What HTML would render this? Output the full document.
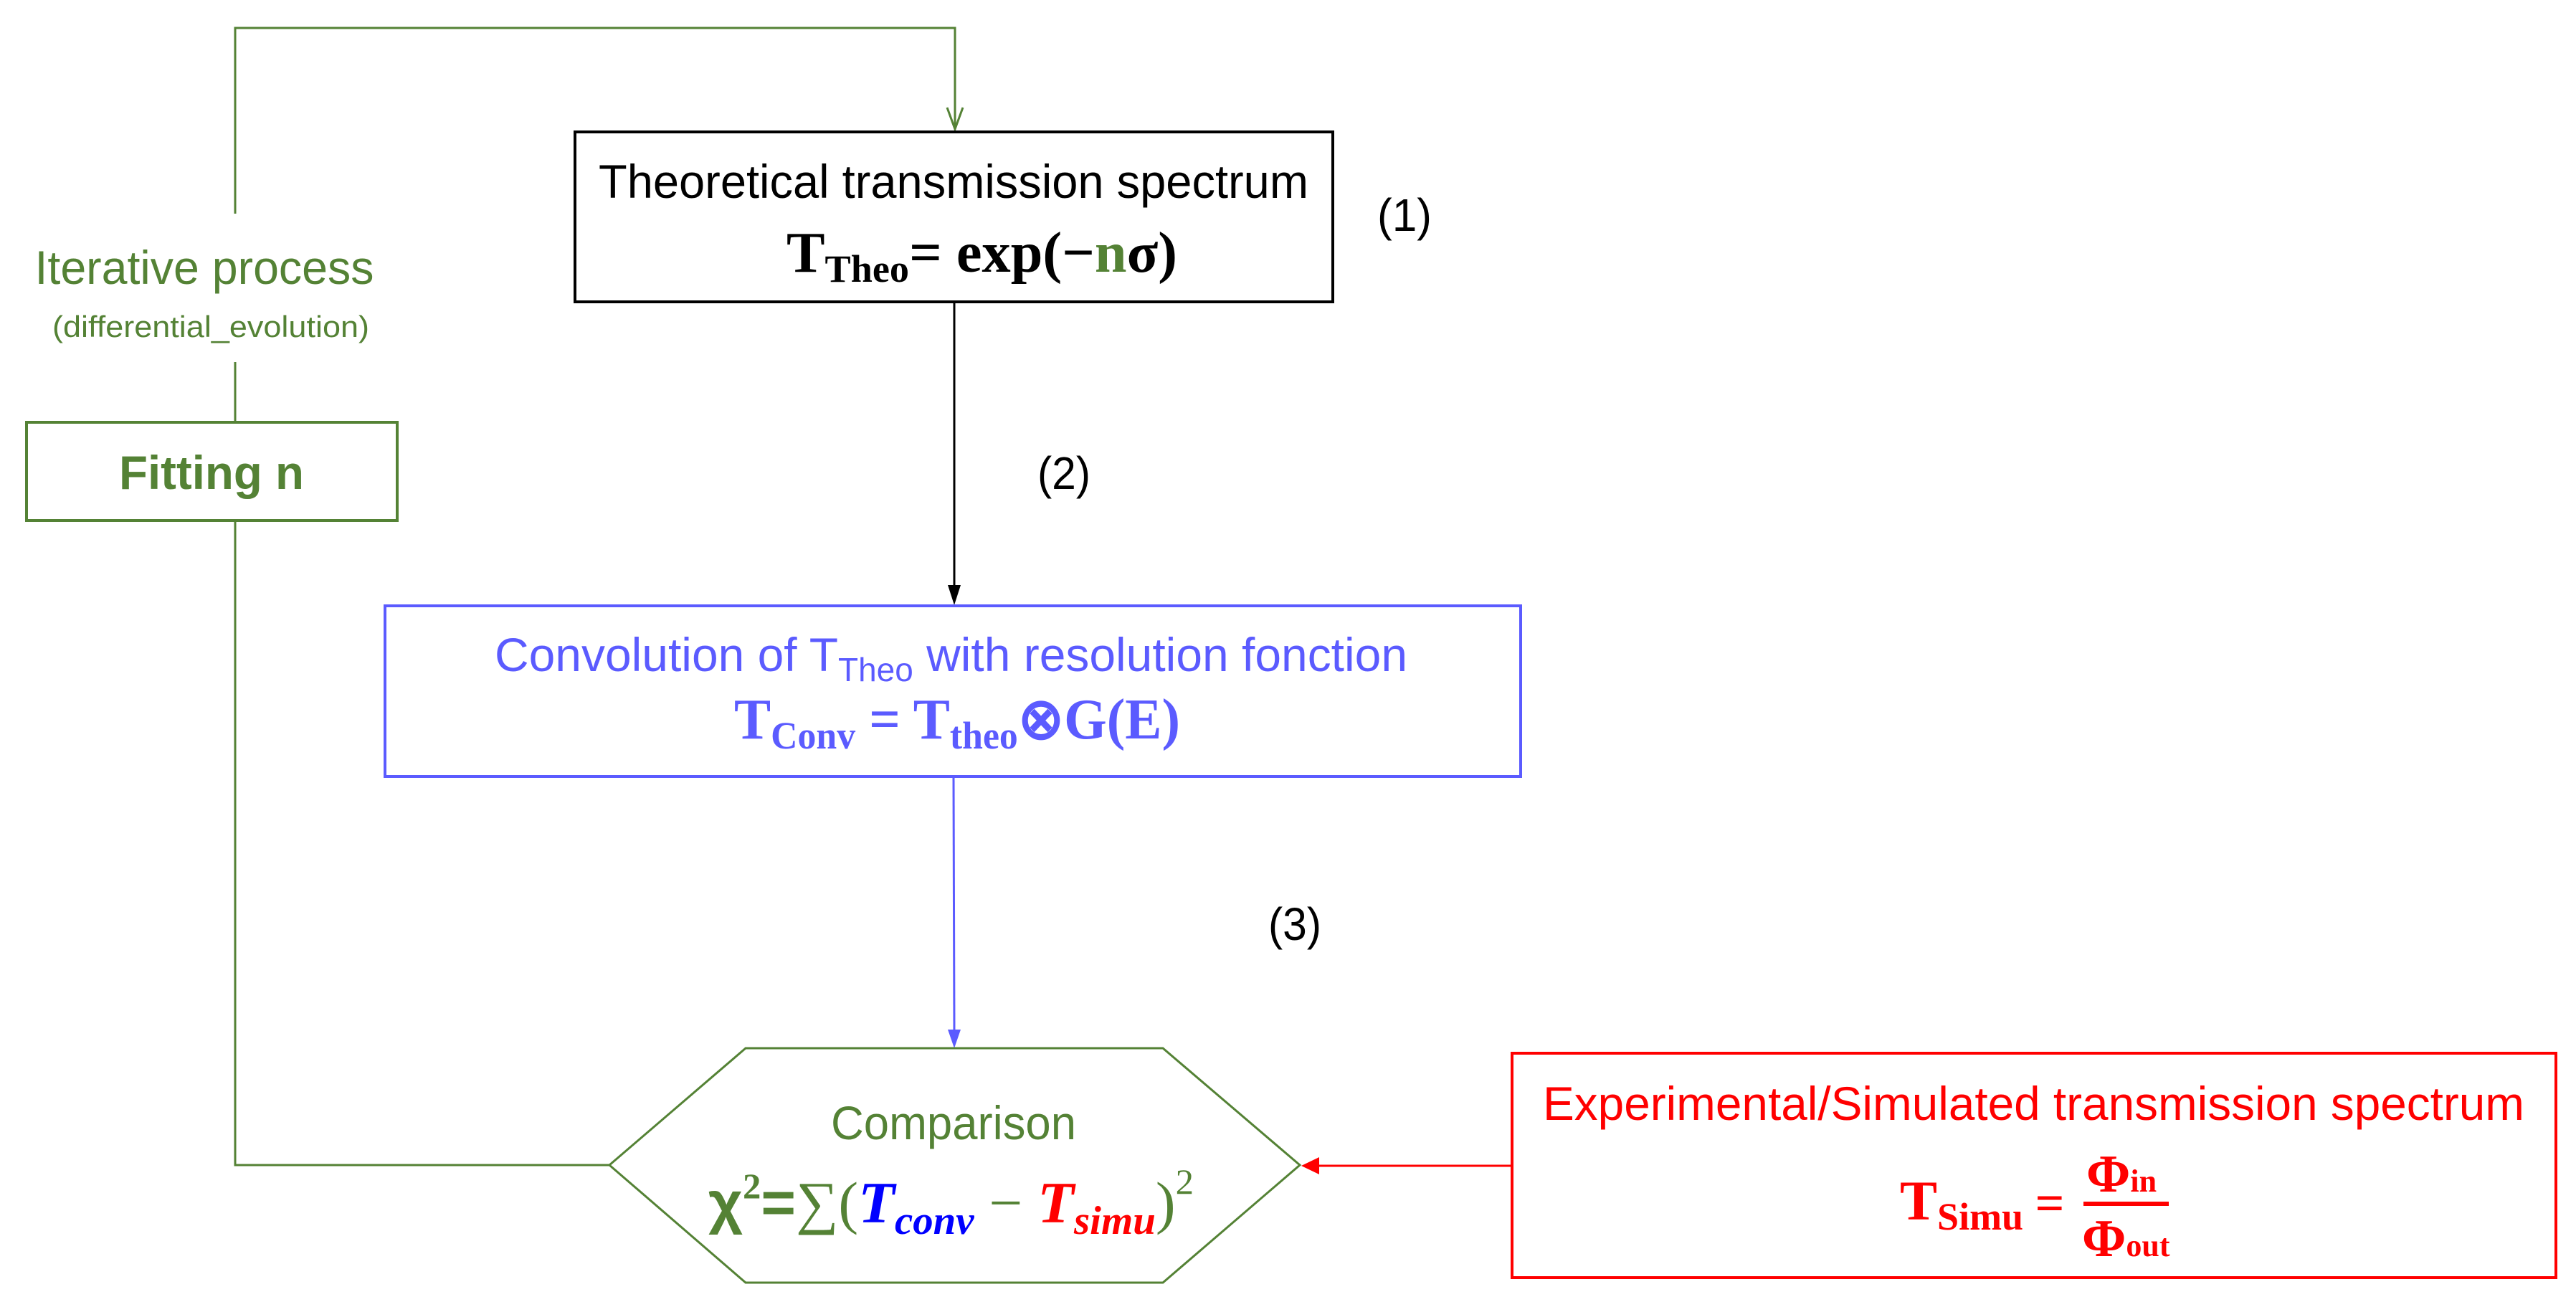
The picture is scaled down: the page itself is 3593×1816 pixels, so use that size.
<!DOCTYPE html>
<html><head><meta charset="utf-8"><style>html,body{margin:0;padding:0;background:#fff}svg{display:block}</style></head>
<body>
<svg width="3593" height="1816" viewBox="0 0 3593 1816" xmlns="http://www.w3.org/2000/svg">
<rect width="3593" height="1816" fill="#fff"/>
<defs>
<marker id="ag" markerWidth="20" markerHeight="30" refX="10" refY="28" orient="auto" markerUnits="userSpaceOnUse"><path d="M1,0 L10,28 L19,0" fill="none" stroke="#548235" stroke-width="2"/></marker>
</defs>
<!-- green loop -->
<polyline points="328,298 328,39 1332,39 1332,180" fill="none" stroke="#548235" stroke-width="3"/>
<path d="M1321,150 L1332,180 L1343,150" fill="none" stroke="#548235" stroke-width="3"/>
<line x1="328" y1="505" x2="328" y2="588" stroke="#548235" stroke-width="3"/>
<polyline points="328,726 328,1625 850,1625" fill="none" stroke="#548235" stroke-width="3"/>
<!-- Theo box -->
<rect x="802" y="184" width="1057" height="237" fill="#fff" stroke="#000" stroke-width="4"/>
<text x="1330" y="276" font-family="Liberation Sans, sans-serif" font-size="66" text-anchor="middle" textLength="990" lengthAdjust="spacingAndGlyphs">Theoretical transmission spectrum</text>
<text x="1097" y="379" font-family="Liberation Serif, serif" font-weight="bold" font-size="80" textLength="545" lengthAdjust="spacingAndGlyphs">T<tspan font-size="54" dy="14">Theo</tspan><tspan dy="-14">= exp(−</tspan><tspan fill="#548235">n</tspan>σ)</text>
<text x="1959" y="322" font-family="Liberation Sans, sans-serif" font-size="64" text-anchor="middle" textLength="76" lengthAdjust="spacingAndGlyphs">(1)</text>
<!-- black arrow -->
<line x1="1331" y1="421" x2="1331" y2="820" stroke="#000" stroke-width="3"/>
<path d="M1322,816 L1331,844 L1340,816 Z" fill="#000"/>
<text x="1484" y="682" font-family="Liberation Sans, sans-serif" font-size="64" text-anchor="middle" textLength="74" lengthAdjust="spacingAndGlyphs">(2)</text>
<!-- iterative -->
<text x="285" y="396" font-family="Liberation Sans, sans-serif" font-size="66" fill="#548235" text-anchor="middle" textLength="473" lengthAdjust="spacingAndGlyphs">Iterative process</text>
<text x="294" y="470" font-family="Liberation Sans, sans-serif" font-size="42" fill="#548235" text-anchor="middle" textLength="442" lengthAdjust="spacingAndGlyphs">(differential_evolution)</text>
<rect x="37" y="589" width="517" height="137" fill="#fff" stroke="#548235" stroke-width="4"/>
<text x="295" y="682" font-family="Liberation Sans, sans-serif" font-weight="bold" font-size="66" fill="#548235" text-anchor="middle" textLength="258" lengthAdjust="spacingAndGlyphs">Fitting  n</text>
<!-- conv box -->
<rect x="537" y="845" width="1584" height="238" fill="#fff" stroke="#5b5bff" stroke-width="4"/>
<text x="690" y="936" font-family="Liberation Sans, sans-serif" font-size="66" fill="#5b5bff" textLength="1273" lengthAdjust="spacingAndGlyphs">Convolution of T<tspan font-size="46" dy="14">Theo</tspan><tspan dy="-14"> with resolution fonction</tspan></text>
<text x="1024" y="1030" font-family="Liberation Serif, serif" font-weight="bold" font-size="80" fill="#5b5bff" textLength="622" lengthAdjust="spacingAndGlyphs">T<tspan font-size="54" dy="14">Conv</tspan><tspan dy="-14"> = T</tspan><tspan font-size="54" dy="14">theo</tspan><tspan dy="-14">⊗G(E)</tspan></text>
<!-- blue arrow -->
<line x1="1330" y1="1083" x2="1331" y2="1440" stroke="#5b5bff" stroke-width="3"/>
<path d="M1322,1436 L1331,1462 L1340,1436 Z" fill="#5b5bff"/>
<text x="1806" y="1311" font-family="Liberation Sans, sans-serif" font-size="64" text-anchor="middle" textLength="74" lengthAdjust="spacingAndGlyphs">(3)</text>
<!-- hexagon -->
<polygon points="850,1625 1040,1462 1622,1462 1813,1625 1622,1789 1040,1789" fill="#fff" stroke="#548235" stroke-width="3"/>
<text x="1330" y="1589" font-family="Liberation Sans, sans-serif" font-size="66" fill="#548235" text-anchor="middle" textLength="342" lengthAdjust="spacingAndGlyphs">Comparison</text>
<text x="988" y="1705" font-family="Liberation Serif, serif" font-size="82" fill="#548235" textLength="677" lengthAdjust="spacingAndGlyphs"><tspan font-family="Liberation Sans, sans-serif" font-weight="bold">χ</tspan><tspan font-size="50" dy="-34" font-weight="bold">2</tspan><tspan dy="34" font-weight="bold" font-family="Liberation Sans, sans-serif">=</tspan>∑(<tspan fill="#0000ff" font-style="italic" font-weight="bold">T</tspan><tspan fill="#0000ff" font-style="italic" font-weight="bold" font-size="56" dy="16">conv</tspan><tspan dy="-16"> − </tspan><tspan fill="#ff0000" font-style="italic" font-weight="bold">T</tspan><tspan fill="#ff0000" font-style="italic" font-weight="bold" font-size="56" dy="16">simu</tspan><tspan dy="-16">)</tspan><tspan font-size="50" dy="-40">2</tspan></text>
<!-- red box -->
<line x1="2109" y1="1626" x2="1840" y2="1626" stroke="#ff0000" stroke-width="3"/>
<path d="M1840,1614 L1815,1626 L1840,1638 Z" fill="#ff0000"/>
<rect x="2109" y="1469" width="1456" height="313" fill="#fff" stroke="#ff0000" stroke-width="4"/>
<text x="2152" y="1562" font-family="Liberation Sans, sans-serif" font-size="66" fill="#ff0000" textLength="1369" lengthAdjust="spacingAndGlyphs">Experimental/Simulated transmission spectrum</text>
<text x="2650" y="1701" font-family="Liberation Serif, serif" font-weight="bold" font-size="78" fill="#ff0000">T<tspan font-size="54" dy="14">Simu</tspan></text>
<text x="2859" y="1702" font-family="Liberation Serif, serif" font-weight="bold" font-size="72" fill="#ff0000" text-anchor="middle">=</text>
<line x1="2906" y1="1679" x2="3025" y2="1679" stroke="#ff0000" stroke-width="6"/>
<text x="2910" y="1662" font-family="Liberation Serif, serif" font-weight="bold" font-size="74" fill="#ff0000">Φ<tspan font-size="44">in</tspan></text>
<text x="2904" y="1752" font-family="Liberation Serif, serif" font-weight="bold" font-size="74" fill="#ff0000">Φ<tspan font-size="44">out</tspan></text>
</svg>
</body></html>
